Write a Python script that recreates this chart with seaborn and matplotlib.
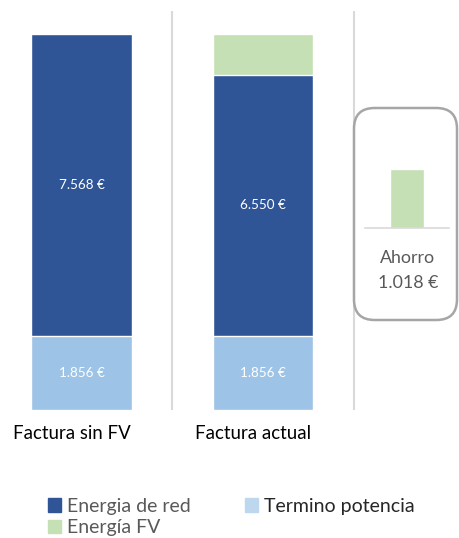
import matplotlib
matplotlib.use("Agg")
import matplotlib.pyplot as plt
import matplotlib.transforms as mtransforms
from matplotlib.patches import Patch, FancyBboxPatch
import pandas as pd
import seaborn as sns

categories = ["Factura sin FV", "Factura actual"]
termino_potencia = [1856, 1856]
energia_red = [7568, 6550]
energia_fv = [0, 1018]
ahorro = 1018

colRed = "#2F5597"
colPot = "#9DC3E6"
colFv = "#C5E0B4"
textGrey = "#595959"


def eur(v):
    return f"{v:,.0f} €".replace(",", ".")


def main():
    sns.set_theme(style="white")
    plt.rcParams["font.family"] = ["Lato", "DejaVu Sans"]

    df = pd.DataFrame({"cat": categories, "pot": termino_potencia,
                       "red": energia_red, "fv": energia_fv})
    df["stack_red"] = df["pot"] + df["red"]
    df["stack_fv"] = df["stack_red"] + df["fv"]

    fig = plt.figure(figsize=(4.59, 5.38), dpi=100)
    W, H = 459, 538
    ax = fig.add_axes([0, (H - 410) / H, 1, 399 / H])
    ax.set_facecolor("none")

    # stacked bars drawn as overlapping cumulative totals
    sns.barplot(data=df, x="cat", y="stack_fv", color=colFv, width=0.556,
                saturation=1, ax=ax)
    sns.barplot(data=df, x="cat", y="stack_red", color=colRed, width=0.556,
                saturation=1, ax=ax)
    sns.barplot(data=df, x="cat", y="pot", color=colPot, width=0.556,
                saturation=1, ax=ax)

    for i, row in df.iterrows():
        ax.text(i, row["pot"] + row["red"] / 2, eur(row["red"]), color="white",
                ha="center", va="center", fontsize=9.7)
        ax.text(i, row["pot"] / 2, eur(row["pot"]), color="white",
                ha="center", va="center", fontsize=9.7)

    for xs in (0.5, 1.5):
        ax.axvline(xs, color="#D9D9D9", lw=1.5)

    ax.set_xlim(-0.449, 2.08)
    ax.set_ylim(0, 10000)
    ax.set_xlabel("")
    ax.set_ylabel("")
    ax.set_yticks([])
    ax.tick_params(axis="x", length=0, pad=11, labelsize=13.4, colors="black")
    # category labels sit a little left of the bar centres
    shift = mtransforms.ScaledTranslation(-0.1, 0, fig.dpi_scale_trans)
    for lbl in ax.get_xticklabels():
        lbl.set_transform(lbl.get_transform() + shift)
    sns.despine(ax=ax, left=True, bottom=True)

    # savings callout
    box = FancyBboxPatch((354 / W, (H - 320) / H), 103 / W, 212 / H,
                         boxstyle="round,pad=0,rounding_size=0.045",
                         transform=fig.transFigure, facecolor="white",
                         edgecolor="#A6A6A6", lw=1.8, mutation_aspect=W / H,
                         zorder=0.5)
    fig.patches.append(box)

    axIn = fig.add_axes([365 / W, (H - 228) / H, 84 / W, 78 / H])
    axIn.set_zorder(2)
    sns.barplot(x=["Ahorro"], y=[ahorro], color=colFv, width=0.405,
                saturation=1, ax=axIn)
    axIn.set_xlim(-0.5, 0.5)
    axIn.set_ylim(0, ahorro * 78 / 59)
    axIn.set_xticks([])
    axIn.set_yticks([])
    axIn.set_facecolor("none")
    sns.despine(ax=axIn, left=True)
    axIn.spines["bottom"].set_color("#D9D9D9")
    axIn.spines["bottom"].set_linewidth(1.2)
    fig.text(408 / W, 1 - 258 / H, "Ahorro", ha="center", va="center",
             fontsize=12.8, color=textGrey, zorder=3)
    fig.text(408 / W, 1 - 283 / H, eur(ahorro), ha="center", va="center",
             fontsize=12.8, color=textGrey, zorder=3)

    handles = [Patch(color=colRed, label="Energia de red"),
               Patch(color=colFv, label="Energía FV"),
               Patch(color="#BDD7EE", label="Termino potencia")]
    leg = fig.legend(handles=handles, ncol=2, frameon=False, fontsize=14,
                     loc="upper left", bbox_to_anchor=(38 / W, 1 - 488 / H),
                     handlelength=0.68, handleheight=0.68, handletextpad=0.3,
                     columnspacing=2.8, labelspacing=0.22, borderpad=0)
    for t, c in zip(leg.get_texts(), [textGrey, textGrey, "#262626"]):
        t.set_color(c)

    fig.savefig("out.png", dpi=100)


if __name__ == "__main__":
    main()
